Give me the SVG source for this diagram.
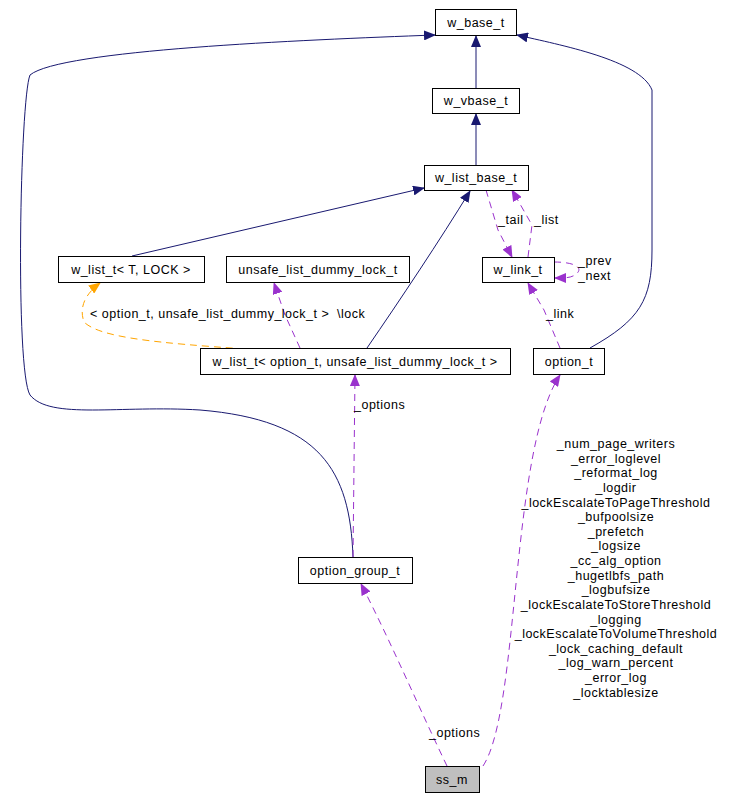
<svg xmlns="http://www.w3.org/2000/svg" width="731" height="799" viewBox="0 0 731 799">
<style>
text{font-family:"Liberation Sans",Arial,sans-serif;font-size:12.5px;letter-spacing:0.5px;fill:#000}
.n rect{fill:#fff;stroke:#000;stroke-width:1}
.n text{text-anchor:middle}
.b{fill:none;stroke:#191970;stroke-width:1}
.p{fill:none;stroke:#9a32cd;stroke-width:1;stroke-dasharray:7,5}
.o{fill:none;stroke:#ffa500;stroke-width:1;stroke-dasharray:7,5}
.lb{text-anchor:middle}
</style>
<defs>
<marker id="ab" markerWidth="12" markerHeight="10" refX="11" refY="5" orient="auto" markerUnits="userSpaceOnUse"><path d="M0,0L12,5L0,10z" fill="#191970"/></marker>
<marker id="ap" markerWidth="12" markerHeight="10" refX="11" refY="5" orient="auto" markerUnits="userSpaceOnUse"><path d="M0,0L12,5L0,10z" fill="#9a32cd"/></marker>
<marker id="ao" markerWidth="12" markerHeight="10" refX="11" refY="5" orient="auto" markerUnits="userSpaceOnUse"><path d="M0,0L12,5L0,10z" fill="#ffa500"/></marker>
</defs>
<g id="connectors">
<path class="b" d="M476,88L476,36" marker-end="url(#ab)"/>
<path class="b" d="M476,165L476,114" marker-end="url(#ab)"/>
<path class="b" d="M132,256L424,188" marker-end="url(#ab)"/>
<path class="b" d="M367,348C400,300 440,240 470,191" marker-end="url(#ab)"/>
<path class="b" d="M353,557C350,470 320,420 200,410C120,405 50,420 30,395C15,370 20,100 30,75C60,50 300,40 435,35" marker-end="url(#ab)"/>
<path class="b" d="M590,348C640,320 652,300 652,250L652,90C640,60 560,45 517,35" marker-end="url(#ab)"/>
<path class="p" d="M486,190L498,230L512,257" marker-end="url(#ap)"/>
<path class="p" d="M528,257L532,225L512,190" marker-end="url(#ap)"/>
<path class="p" d="M554,262C575,262 585,268 575,275C570,278 565,278 555,278" marker-end="url(#ap)"/>
<path class="p" d="M560,348L544,310L528,283" marker-end="url(#ap)"/>
<path class="p" d="M300,348L285,315L274,283" marker-end="url(#ap)"/>
<path class="o" d="M245,349C160,343 100,338 84,322C78,305 88,292 100,283" marker-end="url(#ao)"/>
<path class="p" d="M353,557L355,375" marker-end="url(#ap)"/>
<path class="p" d="M447,766C420,710 390,640 361,584" marker-end="url(#ap)"/>
<path class="p" d="M483,766C520,710 510,450 560,375" marker-end="url(#ap)"/>
</g>
<text x="90" y="318">&lt; option_t, unsafe_list_dummy_lock_t &gt;</text>
<text x="337" y="318">\lock</text>
<text x="498" y="224">_tail</text>
<text x="534" y="224">_list</text>
<text x="578" y="265">_prev</text>
<text x="578" y="280">_next</text>
<text x="546" y="318">_link</text>
<text x="354" y="409">_options</text>
<text x="429" y="737">_options</text>
<g class="lb">
<text x="616" y="448">_num_page_writers</text>
<text x="616" y="463">_error_loglevel</text>
<text x="616" y="477">_reformat_log</text>
<text x="616" y="492">_logdir</text>
<text x="616" y="507">_lockEscalateToPageThreshold</text>
<text x="616" y="521">_bufpoolsize</text>
<text x="616" y="536">_prefetch</text>
<text x="616" y="550">_logsize</text>
<text x="616" y="565">_cc_alg_option</text>
<text x="616" y="580">_hugetlbfs_path</text>
<text x="616" y="594">_logbufsize</text>
<text x="616" y="609">_lockEscalateToStoreThreshold</text>
<text x="616" y="624">_logging</text>
<text x="616" y="638">_lockEscalateToVolumeThreshold</text>
<text x="616" y="653">_lock_caching_default</text>
<text x="616" y="667">_log_warn_percent</text>
<text x="616" y="682">_error_log</text>
<text x="616" y="697">_locktablesize</text>
</g>
<g id="w_base_t" class="n"><rect x="435.5" y="9.5" width="81" height="26"/><text x="476" y="27">w_base_t</text></g>
<g id="w_vbase_t" class="n"><rect x="432.5" y="88.5" width="87" height="25"/><text x="476" y="105">w_vbase_t</text></g>
<g id="w_list_base_t" class="n"><rect x="424.5" y="165.5" width="104" height="25"/><text x="476" y="182">w_list_base_t</text></g>
<g id="w_list_t_T_LOCK" class="n"><rect x="58.5" y="256.5" width="146" height="26"/><text x="131" y="274">w_list_t&lt; T, LOCK &gt;</text></g>
<g id="unsafe_list_dummy_lock_t" class="n"><rect x="226.5" y="256.5" width="183" height="26"/><text x="318" y="274">unsafe_list_dummy_lock_t</text></g>
<g id="w_link_t" class="n"><rect x="482.5" y="257.5" width="72" height="25"/><text x="518" y="274">w_link_t</text></g>
<g id="w_list_t_option" class="n"><rect x="200.5" y="348.5" width="310" height="26"/><text x="355" y="366">w_list_t&lt; option_t, unsafe_list_dummy_lock_t &gt;</text></g>
<g id="option_t" class="n"><rect x="533.5" y="348.5" width="71" height="26"/><text x="569" y="366">option_t</text></g>
<g id="option_group_t" class="n"><rect x="298.5" y="557.5" width="114" height="26"/><text x="355" y="575">option_group_t</text></g>
<g id="ss_m" class="n"><rect x="425.5" y="766.5" width="54" height="26" style="fill:#bfbfbf"/><text x="452" y="784">ss_m</text></g>
</svg>
